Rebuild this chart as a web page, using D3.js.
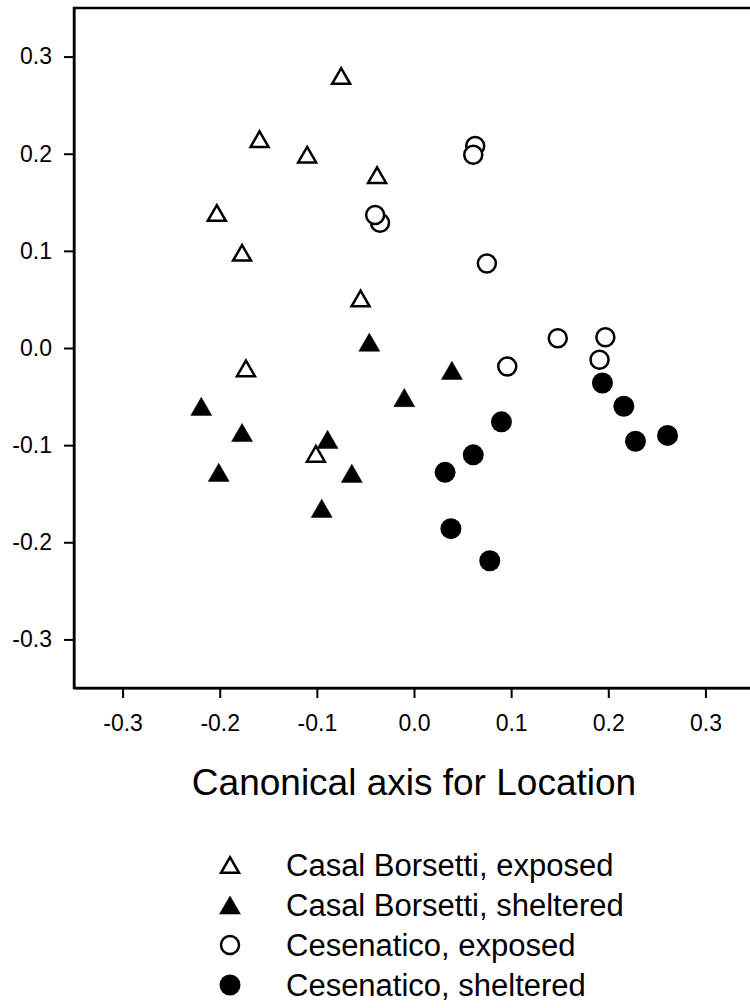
<!DOCTYPE html>
<html>
<head>
<meta charset="utf-8">
<script src="https://cdn.jsdelivr.net/npm/d3@7"></script>
<style>
  body { margin: 0; background: #fff; }
  svg { display: block; }
</style>
</head>
<body>
<div id="cva-graphic"></div>
<script>
// canonical scores per group: x = axis for Location, y = second axis
var casalExposedX   = [-0.075, -0.159, -0.110, -0.038, -0.203, -0.177, -0.055, -0.173, -0.101];
var casalExposedY   = [ 0.280,  0.215,  0.199,  0.178,  0.139,  0.098,  0.051, -0.021, -0.109];
var casalShelteredX = [-0.046, -0.219, -0.177, -0.089, -0.201, -0.064, -0.095, -0.010,  0.039];
var casalShelteredY = [ 0.006, -0.060, -0.087, -0.094, -0.128, -0.129, -0.165, -0.051, -0.023];
var cesenExposedX   = [ 0.063,  0.061, -0.035, -0.040,  0.075,  0.148,  0.197,  0.191,  0.096];
var cesenExposedY   = [ 0.208,  0.199,  0.129,  0.137,  0.087,  0.010,  0.011, -0.012, -0.019];
var cesenShelteredX = [ 0.194,  0.216,  0.228,  0.261,  0.090,  0.061,  0.032,  0.038,  0.078];
var cesenShelteredY = [-0.036, -0.060, -0.096, -0.090, -0.076, -0.110, -0.128, -0.186, -0.219];

var xTicks = [-0.3, -0.2, -0.1, 0.0, 0.1, 0.2, 0.3];
var yTicks = [-0.3, -0.2, -0.1, 0.0, 0.1, 0.2, 0.3];
var axisDomain = [-0.35, 0.35];

var legendLabels = [
    'Casal Borsetti, exposed',
    'Casal Borsetti, sheltered',
    'Cesenatico, exposed',
    'Cesenatico, sheltered'
];
var xTitle = 'Canonical axis for Location';

var graphicWidth = 750;
var graphicHeight = 1008;
var mainFont = 'Arial, "Liberation Sans", sans-serif';
var plotLeft = 74, plotTop = 8, plotSize = 680;
var symbolSize = 21;

window.onload = function() {
    render();
};

function render() {
    var svg = d3.select('#cva-graphic').append('svg')
        .attr('width', graphicWidth)
        .attr('height', graphicHeight);

    var x = d3.scaleLinear().domain(axisDomain).range([plotLeft, plotLeft + plotSize]);
    var y = d3.scaleLinear().domain(axisDomain).range([plotTop + plotSize, plotTop]);

    // frame: top edge runs off the right side of the page
    svg.append('rect')
        .attr('x', plotLeft)
        .attr('y', plotTop)
        .attr('width', plotSize)
        .attr('height', plotSize)
        .style('fill', 'none')
        .style('stroke', '#000')
        .style('stroke-width', 2.5);

    var fmt = function(d) { return d.toFixed(1); };

    var xAxis = svg.append('g')
        .attr('transform', 'translate(0,' + (plotTop + plotSize) + ')')
        .call(d3.axisBottom(x).tickValues(xTicks).tickFormat(fmt)
            .tickSize(10).tickSizeOuter(0).tickPadding(17));
    var yAxis = svg.append('g')
        .attr('transform', 'translate(' + plotLeft + ',0)')
        .call(d3.axisLeft(y).tickValues(yTicks).tickFormat(fmt)
            .tickSize(10).tickSizeOuter(0).tickPadding(12));

    [xAxis, yAxis].forEach(function(a) {
        a.select('.domain').style('stroke', '#000').style('stroke-width', 2);
        a.selectAll('.tick line').style('stroke', '#000').style('stroke-width', 2);
        a.selectAll('.tick text')
            .style('font-family', mainFont)
            .style('font-size', '23px')
            .style('fill', '#000');
    });

    svg.append('text')
        .attr('x', plotLeft + plotSize / 2)
        .attr('y', 795)
        .style('font-family', mainFont)
        .style('font-size', '37px')
        .style('text-anchor', 'middle')
        .text(xTitle);

    // sheltered triangles first so the exposed ones sit on top
    drawSeries(svg, x, y, casalShelteredX, casalShelteredY, 'triangle', true);
    drawSeries(svg, x, y, casalExposedX, casalExposedY, 'triangle', false);
    drawSeries(svg, x, y, cesenExposedX, cesenExposedY, 'circle', false);
    drawSeries(svg, x, y, cesenShelteredX, cesenShelteredY, 'circle', true);

    makeLegend(svg);
}

function trianglePath(cx, cy, s) {
    var h = s * Math.sqrt(3) / 2;
    return 'M' + cx + ',' + (cy - h / 2) +
        'L' + (cx + s / 2) + ',' + (cy + h / 2) +
        'L' + (cx - s / 2) + ',' + (cy + h / 2) + 'Z';
}

function drawMarker(g, cx, cy, shape, filled) {
    if (shape === 'triangle') {
        var s = filled ? symbolSize : symbolSize - 3;
        g.append('path')
            .attr('d', trianglePath(cx, cy, s))
            .style('fill', filled ? '#000' : '#fff')
            .style('stroke', '#000')
            .style('stroke-width', filled ? 0.5 : 2.5)
            .style('stroke-linejoin', 'miter');
    } else {
        g.append('circle')
            .attr('cx', cx)
            .attr('cy', cy)
            .attr('r', filled ? symbolSize / 2 : symbolSize / 2 - 1.5)
            .style('fill', filled ? '#000' : '#fff')
            .style('stroke', '#000')
            .style('stroke-width', filled ? 0 : 2.5);
    }
}

function drawSeries(svg, x, y, xs, ys, shape, filled) {
    var g = svg.append('g');
    for (var i = 0; i < xs.length; i++) {
        drawMarker(g, x(xs[i]), y(ys[i]), shape, filled);
    }
}

function makeLegend(svg) {
    var shapes = ['triangle', 'triangle', 'circle', 'circle'];
    var fills = [false, true, false, true];
    var g = svg.append('g');
    for (var i = 0; i < legendLabels.length; i++) {
        var cy = 865 + i * 40;
        drawMarker(g, 230, cy, shapes[i], fills[i]);
        g.append('text')
            .attr('x', 286)
            .attr('y', cy + 11)
            .style('font-family', mainFont)
            .style('font-size', '31px')
            .text(legendLabels[i]);
    }
}
</script>
</body>
</html>
